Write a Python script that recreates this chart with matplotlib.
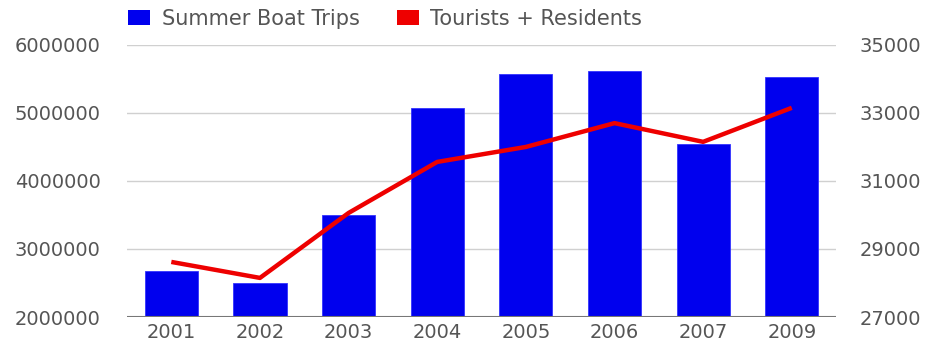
import matplotlib
matplotlib.use("Agg")
import matplotlib.pyplot as plt
from matplotlib.patches import Patch

years = ["2001", "2002", "2003", "2004", "2005", "2006", "2007", "2009"]
boat_trips = [2680000, 2500000, 3500000, 5070000, 5570000, 5620000, 4540000, 5530000]
population = [28620, 28150, 30060, 31560, 32000, 32700, 32150, 33150]

plt.rcParams["font.family"] = ["DejaVu Sans"]
text_color = "#555555"

fig = plt.figure(figsize=(9.29, 3.48), dpi=100)
ax = fig.add_axes([0.1367, 0.089, 0.7633, 0.782])
ax2 = ax.twinx()

x = range(len(years))
ax.bar(x, boat_trips, width=0.6, color="#0000ee", edgecolor="#3333ff", linewidth=0.6,
       zorder=2)
ax.set_ylim(2000000, 6000000)
ax.set_xlim(-0.5, len(years) - 0.5)
ax.set_yticks([2000000, 3000000, 4000000, 5000000, 6000000])
ax.set_yticklabels(["2000000", "3000000", "4000000", "5000000", "6000000"])
ax.set_xticks(list(x))
ax.set_xticklabels(years)
ax.grid(axis="y", color="#d0d0d0", linewidth=1, zorder=0)
ax.set_axisbelow(True)

ax2.plot(list(x), population, color="#ee0000", linewidth=3.2, solid_capstyle="butt", zorder=3)
ax2.set_ylim(27000, 35000)
ax2.set_yticks([27000, 29000, 31000, 33000, 35000])

for a in (ax, ax2):
    for s in ("top", "left", "right", "bottom"):
        a.spines[s].set_visible(False)
    a.tick_params(length=0, labelsize=14, labelcolor=text_color)

ax.axhline(2000000, color="#777777", linewidth=1.5, zorder=4)
ax.tick_params(axis="y", pad=19)
ax.tick_params(axis="x", pad=4)
ax2.tick_params(axis="y", pad=17)

handles = [Patch(facecolor="#0000ee", edgecolor="none"), Patch(facecolor="#ee0000", edgecolor="none")]
fig.legend(handles, ["Summer Boat Trips", "Tourists + Residents"], loc="upper left",
           bbox_to_anchor=(0.118, 1.028), ncol=2, frameon=False, fontsize=15,
           labelcolor=text_color, handlelength=1.05, handleheight=0.7, columnspacing=1.8,
           handletextpad=0.55)

fig.savefig("out.png", dpi=100, facecolor="white")
